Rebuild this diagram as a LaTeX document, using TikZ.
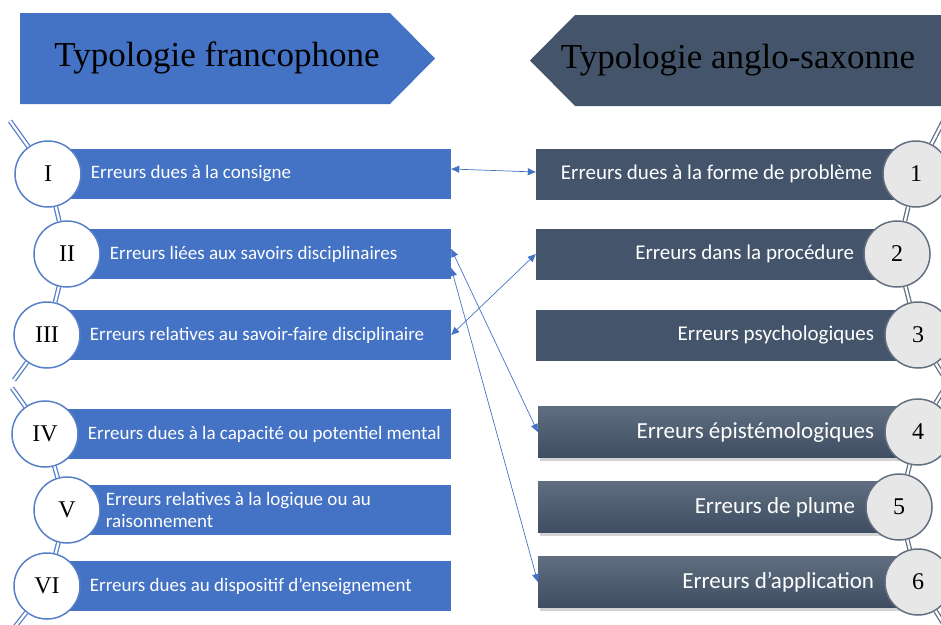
\documentclass[tikz,border=0pt]{standalone}
\usepackage{fontspec}
\setmainfont{Liberation Serif}
\newfontfamily\bodyfont{Carlito}
\usepackage{tikz}
\usetikzlibrary{arrows.meta, positioning, shadows, calc}
\definecolor{franco}{RGB}{68,114,196}
\definecolor{anglo}{RGB}{68,84,106}
\definecolor{ringblue}{RGB}{88,128,200}
\definecolor{ringgray}{RGB}{100,112,130}
\definecolor{disc}{RGB}{231,231,231}
\tikzstyle{arrow} = [franco, line width=0.7pt, <->, >={Triangle[length=8pt,width=7pt]}]
\tikzset{
  fbox/.style={fill=franco, minimum width=406pt, minimum height=50pt, inner sep=0pt},
  abox/.style={fill=anglo, minimum width=370pt, minimum height=51pt, inner sep=0pt},
  sbox/.style={abox, top color=anglo!85!white, bottom color=anglo!92!black,
    drop shadow={shadow xshift=2pt, shadow yshift=-3pt, opacity=0.35}},
  ftext/.style={font=\bodyfont\fontsize{19}{22}\selectfont, text=white, inner sep=0pt, align=left},
  atext/.style={font=\bodyfont\fontsize{21}{24}\selectfont, text=white, inner sep=0pt},
  btext/.style={font=\bodyfont\fontsize{23}{26}\selectfont, text=white, inner sep=0pt},
  htext/.style={font=\fontsize{35}{38}\selectfont, text=black, inner sep=0pt},
  fring/.style={circle, draw=ringblue, line width=1.5pt, fill=white, minimum size=66pt,
    inner sep=0pt, font=\fontsize{24}{24}\selectfont},
  aring/.style={circle, draw=ringgray, line width=1.5pt, fill=disc, minimum size=66pt,
    inner sep=0pt, font=\fontsize{24}{24}\selectfont},
  fchain/.style={draw=ringblue, line width=1.3pt, double=white, double distance=2.2pt},
  achain/.style={draw=ringgray, line width=1.3pt, double=white, double distance=2.2pt},
}

\begin{document}
\begin{tikzpicture}[x=1pt, y=-1pt]
  \useasboundingbox (0,0) rectangle (941,624);
  \clip (0,0) rectangle (941,624);

  % headers
  \fill[franco] (20,13) -- (390,13) -- (435,58.5) -- (390,104) -- (20,104) -- cycle;
  \node[htext] (hFr) at (217,58) {Typologie francophone};
  \fill[anglo] (950,15) -- (575,15) -- (530,60.5) -- (575,106) -- (950,106) -- cycle;
  \node[htext] (hAn) at (738,60) {Typologie anglo-saxonne};

  % francophone boxes
  \node[fbox] (rI) at (248,174) {};
  \node[fbox] (rII) at (248,254) {};
  \node[fbox] (rIII) at (248,335) {};
  \node[fbox] (rIV) at (248,434) {};
  \node[fbox] (rV) at (248,510) {};
  \node[fbox] (rVI) at (248,586) {};

  % anglo-saxon boxes
  \node[abox] (r1) at (721,174) {};
  \node[abox] (r2) at (721,254) {};
  \node[abox] (r3) at (721,335) {};
  \node[sbox] (r4) at (723,432) {};
  \node[sbox] (r5) at (723,507) {};
  \node[sbox] (r6) at (723,582) {};

  % rings
  \node[fring] (cI) at (48,174) {I};
  \node[fring] (cII) at (67,254) {II};
  \node[fring] (cIII) at (47,335) {III};
  \node[fring] (cIV) at (45,434) {IV};
  \node[fring] (cV) at (67,510) {V};
  \node[fring] (cVI) at (47,586) {VI};
  \node[aring] (c1) at (916,174) {1};
  \node[aring] (c2) at (897,254) {2};
  \node[aring] (c3) at (918,335) {3};
  \node[aring] (c4) at (918,432) {4};
  \node[aring] (c5) at (899,507) {5};
  \node[aring] (c6) at (918,582) {6};

  % chains
  \coordinate (lTop) at (10,121);
  \coordinate (lEnd) at (14,380);
  \coordinate (lTop2) at (12,388);
  \coordinate (lBot) at (14,628);
  \coordinate (rTop) at (946,116);
  \coordinate (rEnd) at (946,380);
  \coordinate (rTop2) at (946,386);
  \coordinate (rBot) at (946,628);
  \draw[fchain] (lTop) -- (cI);
  \draw[fchain] (cI) -- (cII);
  \draw[fchain] (cII) -- (cIII);
  \draw[fchain] (cIII) -- (lEnd);
  \draw[fchain] (lTop2) -- (cIV);
  \draw[fchain] (cIV) -- (cV);
  \draw[fchain] (cV) -- (cVI);
  \draw[fchain] (cVI) -- (lBot);
  \draw[achain] (rTop) -- (c1);
  \draw[achain] (c1) -- (c2);
  \draw[achain] (c2) -- (c3);
  \draw[achain] (c3) -- (rEnd);
  \draw[achain] (rTop2) -- (c4);
  \draw[achain] (c4) -- (c5);
  \draw[achain] (c5) -- (c6);
  \draw[achain] (c6) -- (rBot);

  % labels
  \node[ftext, right=9pt of cI] (tI) {Erreurs dues à la consigne};
  \node[ftext, right=9pt of cII] (tII) {Erreurs liées aux savoirs disciplinaires};
  \node[ftext, right=9pt of cIII] (tIII) {Erreurs relatives au savoir-faire disciplinaire};
  \node[ftext, right=9pt of cIV] (tIV) {Erreurs dues à la capacité ou potentiel mental};
  \node[ftext, right=5pt of cV] (tV) {Erreurs relatives à la logique ou au\\raisonnement};
  \node[ftext, right=9pt of cVI] (tVI) {Erreurs dues au dispositif d’enseignement};
  \node[atext, left=10pt of c1] (t1) {Erreurs dues à la forme de problème};
  \node[atext, left=9pt of c2] (t2) {Erreurs dans la procédure};
  \node[atext, left=10pt of c3] (t3) {Erreurs psychologiques};
  \node[btext, left=10pt of c4] (t4) {Erreurs épistémologiques};
  \node[btext, left=10pt of c5] (t5) {Erreurs de plume};
  \node[btext, left=10pt of c6] (t6) {Erreurs d’application};

  % links
  \draw[arrow] ([yshift=5pt]rI.east) -- ([yshift=2pt]r1.west);
  \draw[arrow] (rIII.east) -- (r2.west);
  \draw[arrow] ([yshift=5pt]rII.east) -- (r4.west);
  \draw[arrow] ([yshift=-14pt]rII.east) -- (r6.west);
\end{tikzpicture}
\end{document}
